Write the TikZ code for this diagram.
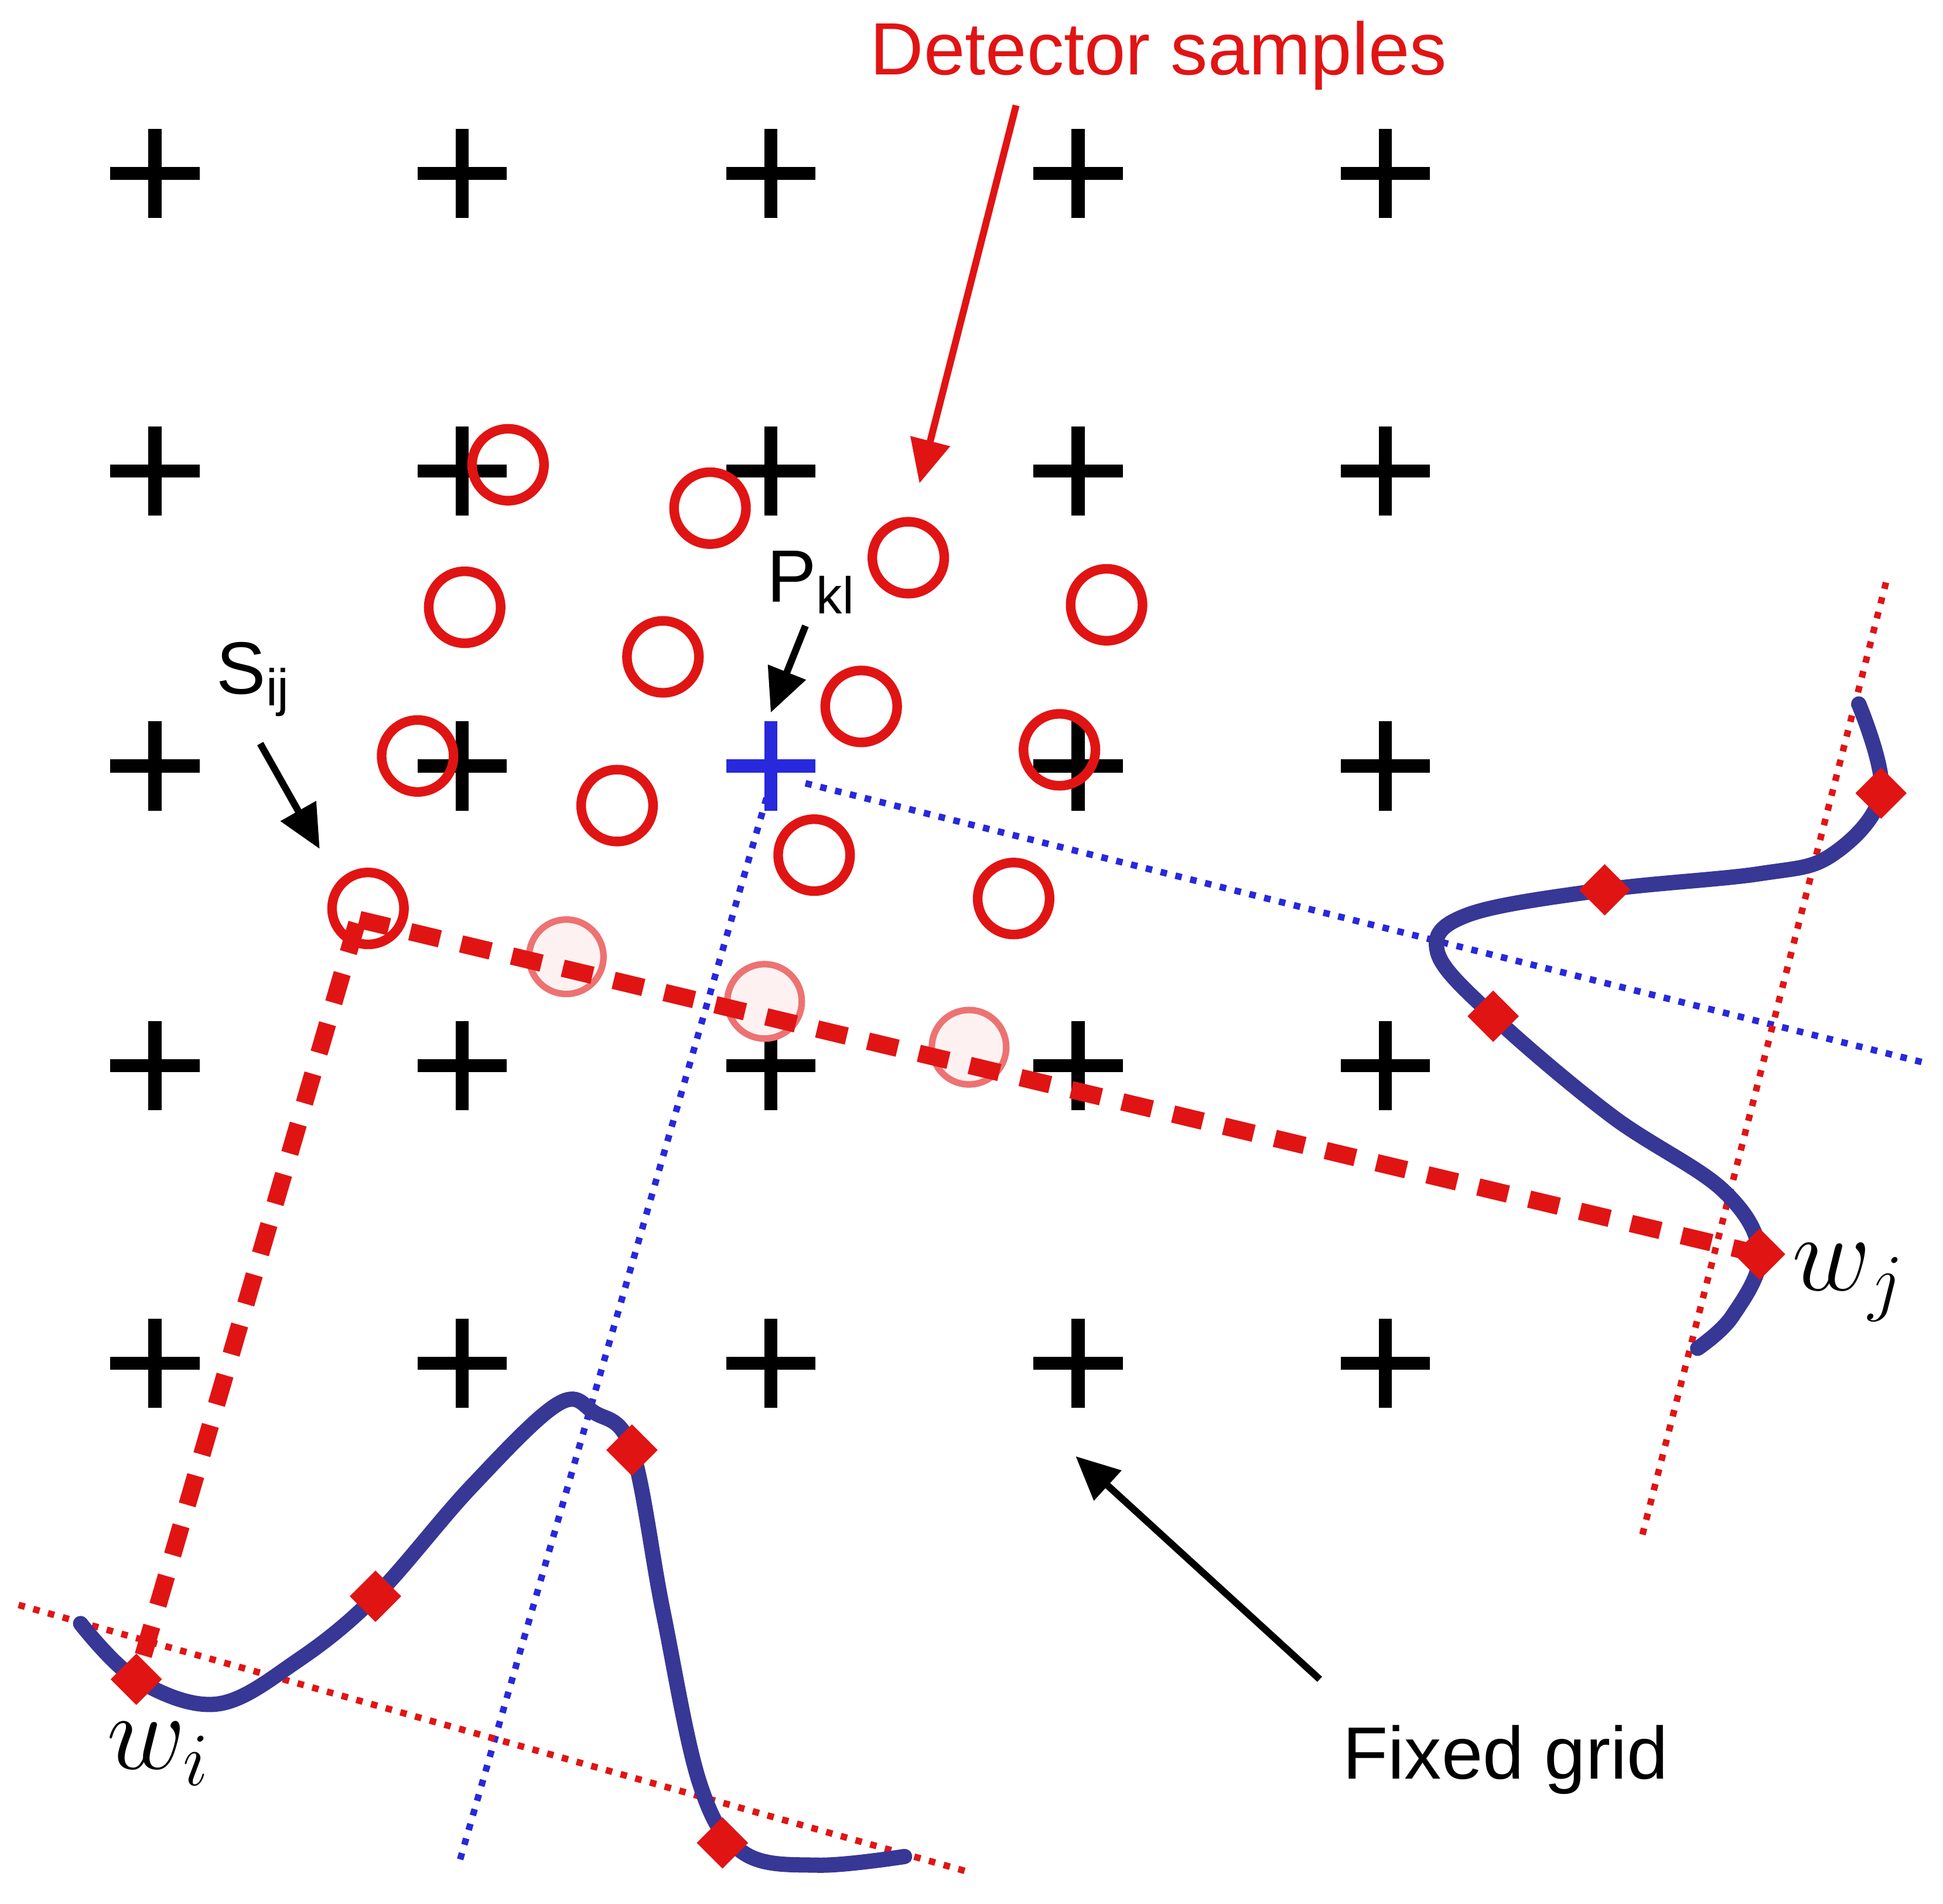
\documentclass[tikz,border=0pt]{standalone}
\usepackage{fontspec}
\setmainfont{Liberation Sans}
\usetikzlibrary{arrows.meta,shapes.geometric}
\definecolor{rd}{RGB}{225,20,20}
\definecolor{bl}{RGB}{40,40,220}
\definecolor{cv}{RGB}{55,55,150}
\begin{document}
\begin{tikzpicture}[x=0.01cm,y=-0.01cm,
  gc/.style={line width=3pt},
  samp/.style={draw=rd,line width=2.2pt,circle,minimum size=0.58cm,inner sep=0pt},
  faint/.style={draw=rd!60,fill=rd!6,line width=1.5pt,circle,minimum size=0.6cm,inner sep=0pt},
  dia/.style={fill=rd,draw=none,diamond,inner sep=0pt,minimum size=0.42cm},
  lbl/.style={font=\fontsize{17}{20}\selectfont},
  arr/.style={-{Triangle[length=10pt,width=9pt]},line width=1.6pt}]
\useasboundingbox (0,0) rectangle (1568,1536);
% grid
\foreach \x in {125,373,622,870,1118}
 \foreach \y in {140,380,618,860,1100}
  \draw[gc] (\x-36,\y) -- (\x+36,\y) (\x,\y-36) -- (\x,\y+36);
\draw[gc,bl] (586,618) -- (658,618) (622,582) -- (622,654);
\node[faint] (f1) at (457,772) {};
\node[faint] (f2) at (617,808) {};
\node[faint] (f3) at (782,845) {};
% lines
\coordinate (wip) at (110,1355);
\draw[rd,line width=4pt,dash pattern=on 7pt off 5pt] (290,742) -- (1420,1012);
\draw[rd,line width=4pt,dash pattern=on 7pt off 5pt] (288,745) -- (wip);
\draw[bl,line width=1.5pt,dotted] (622,632) -- (370,1505);
\draw[bl,line width=1.5pt,dotted] (650,632) -- (1555,858);
\draw[rd,line width=1.5pt,dotted] (15,1295) -- (780,1510);
\draw[rd,line width=1.5pt,dotted] (1522,470) -- (1325,1240);
% samples
\foreach \p [count=\i] in {(410,375),(573,410),(733,450),(375,490),(535,530),(893,488),(337,610),(695,570),(855,605),(498,650),(657,690),(818,725),(297,733)}
  \node[samp] (c\i) at \p {};
% curves
\draw[cv,line width=3.5pt,line cap=round] plot[smooth,tension=0.6] coordinates {(65,1310) (110,1355) (175,1375) (240,1340) (303,1288) (380,1200) (450,1133) (480,1140) (510,1170) (535,1300) (565,1440) (600,1495) (660,1505) (730,1498)};
\draw[cv,line width=3.5pt,line cap=round] plot[smooth,tension=0.6] coordinates {(1500,568) (1518,640) (1478,690) (1420,705) (1295,718) (1185,738) (1160,768) (1205,820) (1300,900) (1390,960) (1420,1012) (1398,1062) (1370,1088)};
\foreach \p [count=\i] in {(110,1355),(303,1288),(510,1170),(583,1487),(1518,640),(1295,718),(1205,820),(1420,1012)}
  \node[dia] (d\i) at \p {};
% labels
\node[lbl,text=rd] (det) at (935,45) {Detector samples};
\coordinate (detA) at (820,85);
\draw[arr,rd] (detA) -- (742,390);
\node[lbl] (pkl) at (655,470) {P\textsubscript{kl}};
\draw[arr] (650,505) -- (622,575);
\node[lbl] (sij) at (205,548) {S\textsubscript{ij}};
\draw[arr] (210,600) -- (258,685);
\node[lbl] (fg) at (1215,1420) {Fixed grid};
\draw[arr] (1065,1355) -- (868,1175);
\node[font=\fontsize{24}{26}\selectfont] (wi) at (128,1415) {$w_i$};
\node[font=\fontsize{24}{26}\selectfont] (wj) at (1492,1035) {$w_j$};
\end{tikzpicture}
\end{document}
